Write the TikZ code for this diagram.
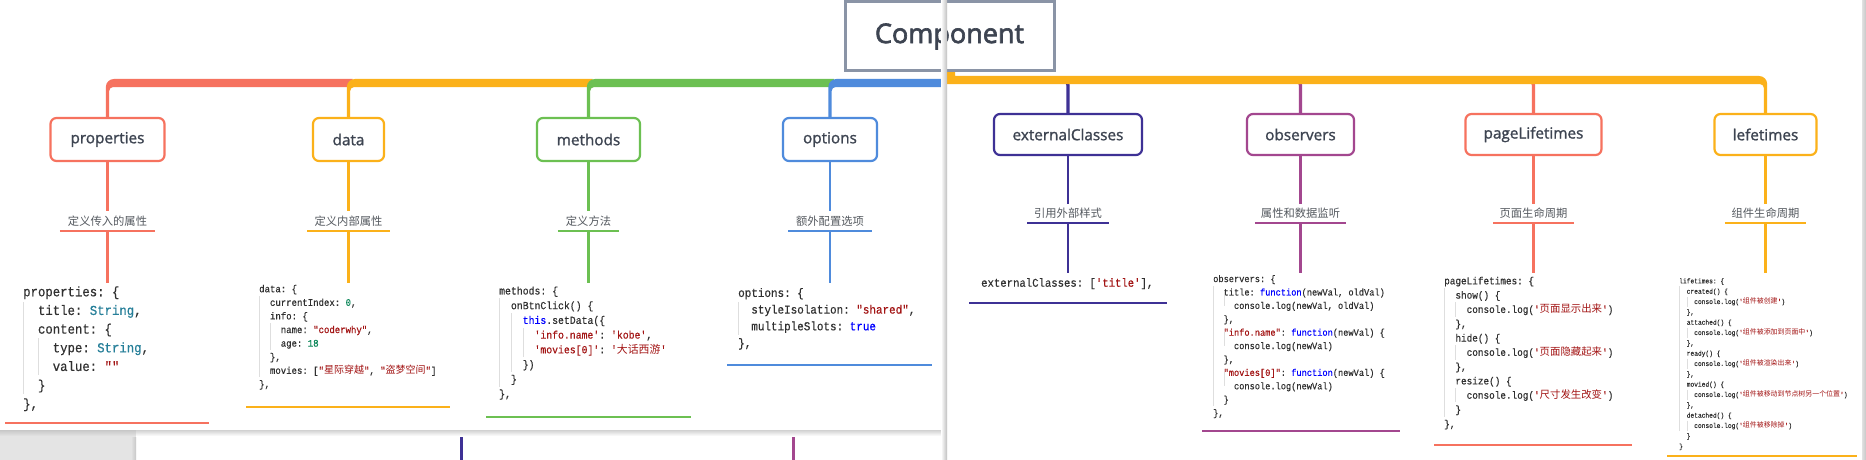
\documentclass[tikz,border=0pt]{standalone}
\usepackage{fontspec}
\setmainfont{Open Sans}
\setmonofont{Liberation Mono}[FakeStretch=0.9,FakeBold=0.4]
\newfontfamily\cjk{Noto Sans CJK SC}
\newfontfamily\labelfont{Open Sans}[FakeBold=1.3]
\newfontfamily\titlefont{Open Sans}[FakeBold=2.4]
\definecolor{cred}{HTML}{F6725F}
\definecolor{cyel}{HTML}{FBB11A}
\definecolor{cgrn}{HTML}{6CC052}
\definecolor{cblu}{HTML}{4F8BDC}
\definecolor{cpur}{HTML}{3E3195}
\definecolor{cmag}{HTML}{A3478F}
\definecolor{ctext}{HTML}{3D4451}
\definecolor{csub}{HTML}{555A60}
\definecolor{ctitleb}{HTML}{8A94A6}
\definecolor{ccode}{HTML}{303030}
\definecolor{cstr}{HTML}{A31515}
\definecolor{cnum}{HTML}{098658}
\definecolor{ctype}{HTML}{267F99}
\definecolor{ckw}{HTML}{0000FF}
\definecolor{bggrey}{HTML}{E4E4E4}
\newcommand\ii{\hspace*{1.08em}}
\newcommand\cs[1]{\textcolor{cstr}{#1}}
\newcommand\cn[1]{\textcolor{cnum}{#1}}
\newcommand\ct[1]{\textcolor{ctype}{#1}}
\newcommand\ck[1]{\textcolor{ckw}{#1}}
\newcommand\codefs[2]{\ttfamily\fontsize{#1}{#2}\selectfont}
\begin{document}
\begin{tikzpicture}[x=1pt,y=-1pt,
  box/.style={line width=2.2, rounded corners=6, fill=white, inner sep=0,
    font=\labelfont\fontsize{15.3}{18}\selectfont, text=ctext},
  lbox/.style={box, minimum height=43},
  rbox/.style={box, minimum height=41},
  sub/.style={inner sep=0, minimum height=20, font=\cjk\fontsize{11.3}{13}\selectfont, text=csub},
  code/.style={anchor=north west, inner sep=0, align=left, text=ccode},
  guide/.style={draw=black!13, line width=0.7},
  thin/.style={line width=2.5},
  uline/.style={line width=2},
  vlink/.style={line width=3.3, rounded corners=4}]
\useasboundingbox (0,0) rectangle (1866,460);
\newcommand\guide[3]{\draw[guide] (#1,#2) -- (#1,#3);}
% backgrounds
\fill[white] (0,0) rectangle (1866,460);
\fill[bggrey] (0,430) rectangle (136,460);
\shade[left color=bggrey, right color=black!22] (131,430) rectangle (136,460);
\draw[cpur, line width=3] (461,430) -- (461,460);
\draw[cmag, line width=3] (793,430) -- (793,460);
\shade[top color=black!22, bottom color=bggrey] (0,430) rectangle (136,436);
\shade[top color=black!18, bottom color=white] (136,430) rectangle (945,436);

% ---------- left panel main branch bands ----------
\fill[cred] (105.85,118) -- (105.85,87) arc[start angle=180,end angle=270,radius=8] -- (352.5,79) -- (352.5,87) -- (113.15,87) arc[start angle=270,end angle=180,radius=4] -- (109.15,118) -- cycle;
\fill[cyel] (346.85,118) -- (346.85,87) arc[start angle=180,end angle=270,radius=8] -- (592.5,79) -- (592.5,87) -- (354.15,87) arc[start angle=270,end angle=180,radius=4] -- (350.15,118) -- cycle;
\fill[cgrn] (586.85,118) -- (586.85,87) arc[start angle=180,end angle=270,radius=8] -- (834,79) -- (834,87) -- (594.15,87) arc[start angle=270,end angle=180,radius=4] -- (590.15,118) -- cycle;
\fill[cblu] (828.35,118) -- (828.35,87) arc[start angle=180,end angle=270,radius=8] -- (946,79) -- (946,87) -- (835.65,87) arc[start angle=270,end angle=180,radius=4] -- (831.65,118) -- cycle;

% ---------- left panel nodes ----------
\node[lbox, draw=cred, minimum width=114] (prop) at (107.5,139.5) {properties};
\node[lbox, draw=cyel, minimum width=71] (data) at (348.5,139.5) {data};
\node[lbox, draw=cgrn, minimum width=103] (meth) at (588.5,139.5) {methods};
\node[lbox, draw=cblu, minimum width=94] (opt) at (830,139.5) {options};

\node[sub, minimum width=95] (propsub) at (107.5,221) {定义传入的属性};
\node[sub, minimum width=82] (datasub) at (348.5,221) {定义内部属性};
\node[sub, minimum width=61] (methsub) at (588.5,221) {定义方法};
\node[sub, minimum width=83] (optsub) at (830,221) {额外配置选项};

\coordinate (propc) at (107.5,283);
\coordinate (datac) at (348.5,283);
\coordinate (methc) at (588.5,283);
\coordinate (optc) at (830,283);

\draw[cred, thin] (prop.south) -- (propsub.north) (propsub.south) -- (propc);
\draw[cyel, thin] (data.south) -- (datasub.north) (datasub.south) -- (datac);
\draw[cgrn, thin] (meth.south) -- (methsub.north) (methsub.south) -- (methc);
\draw[cblu, thin] (opt.south) -- (optsub.north) (optsub.south) -- (optc);
\draw[cred, uline] (propsub.south west) -- (propsub.south east);
\draw[cyel, uline] (datasub.south west) -- (datasub.south east);
\draw[cgrn, uline] (methsub.south west) -- (methsub.south east);
\draw[cblu, uline] (optsub.south west) -- (optsub.south east);

% code blocks left
\node[code, font=\codefs{13.7}{18.67}] (propcode) at (23,283) {%
\strut properties: \{\\
\strut\ii title: \ct{String},\\
\strut\ii content: \{\\
\strut\ii\ii type: \ct{String},\\
\strut\ii\ii value: \cs{""}\\
\strut\ii \}\\
\strut\},};
\guide{23.5}{302}{394}
\guide{38.3}{338}{375}
\draw[cred, uline] (5,423) -- (209,423);

\node[code, font=\codefs{10}{13.6}] (datacode) at (259,282.5) {%
\strut data: \{\\
\strut\ii currentIndex: \cn{0},\\
\strut\ii info: \{\\
\strut\ii\ii name: \cs{"coderwhy"},\\
\strut\ii\ii age: \cn{18}\\
\strut\ii \},\\
\strut\ii movies: [\cs{"{\cjk 星际穿越}"}, \cs{"{\cjk 盗梦空间}"}]\\
\strut\},};
\guide{259.5}{296}{377}
\guide{270.3}{323}{350}
\draw[cyel, uline] (246,407) -- (450,407);

\node[code, font=\codefs{10.9}{14.7}] (methcode) at (499,284) {%
\strut methods: \{\\
\strut\ii onBtnClick() \{\\
\strut\ii\ii \ck{this}.setData(\{\\
\strut\ii\ii\ii \cs{'info.name'}: \cs{'kobe'},\\
\strut\ii\ii\ii \cs{'movies[0]'}: \cs{'{\cjk 大话西游}'}\\
\strut\ii\ii \})\\
\strut\ii \}\\
\strut\},};
\guide{499.5}{298}{387}
\guide{511.3}{313}{372}
\guide{523.1}{328}{357}
\draw[cgrn, uline] (486,417) -- (691,417);

\node[code, font=\codefs{12.15}{16.7}] (optcode) at (738,285) {%
\strut options: \{\\
\strut\ii styleIsolation: \cs{"shared"},\\
\strut\ii multipleSlots: \ck{true}\\
\strut\},};
\guide{738.5}{302}{335}
\draw[cblu, uline] (727,365) -- (932,365);

% ---------- right panel ----------
\draw[cpur, vlink] (1060,81) -- (1068,81) -- (1068,114);
\draw[cmag, vlink] (1292.5,81) -- (1300.5,81) -- (1300.5,114);
\draw[cred, vlink] (1525.5,81) -- (1533.5,81) -- (1533.5,114);
\fill[cyel] (947,69) -- (955,69) -- (955,76) -- (1759.15,76) arc[start angle=270,end angle=360,radius=8] -- (1767.15,114) -- (1763.85,114) -- (1763.85,88) arc[start angle=0,end angle=-90,radius=4] -- (947,84) -- cycle;

\node[rbox, draw=cpur, minimum width=148] (ext) at (1068,134.5) {externalClasses};
\node[rbox, draw=cmag, minimum width=107] (obs) at (1300.5,134.5) {observers};
\node[rbox, draw=cred, minimum width=136] (page) at (1533.5,134.5) {pageLifetimes};
\node[rbox, draw=cyel, minimum width=102] (life) at (1765.5,134.5) {lefetimes};

\node[sub, minimum height=19, minimum width=81] (extsub) at (1068,213.5) {引用外部样式};
\node[sub, minimum height=19, minimum width=91] (obssub) at (1300.5,213.5) {属性和数据监听};
\node[sub, minimum height=19, minimum width=80] (pagesub) at (1533.5,213.5) {页面生命周期};
\node[sub, minimum height=19, minimum width=81] (lifesub) at (1765.5,213.5) {组件生命周期};

\coordinate (extc) at (1068,273);
\coordinate (obsc) at (1300.5,273);
\coordinate (pagec) at (1533.5,273);
\coordinate (lifec) at (1765.5,273);

\draw[cpur, thin] (ext.south) -- (extsub.north) (extsub.south) -- (extc);
\draw[cmag, thin] (obs.south) -- (obssub.north) (obssub.south) -- (obsc);
\draw[cred, thin] (page.south) -- (pagesub.north) (pagesub.south) -- (pagec);
\draw[cyel, thin] (life.south) -- (lifesub.north) (lifesub.south) -- (lifec);
\draw[cpur, uline] (extsub.south west) -- (extsub.south east);
\draw[cmag, uline] (obssub.south west) -- (obssub.south east);
\draw[cred, uline] (pagesub.south west) -- (pagesub.south east);
\draw[cyel, uline] (lifesub.south west) -- (lifesub.south east);

\node[code, font=\codefs{11.8}{14}] (extcode) at (981,276.7) {%
\strut externalClasses: [\cs{'title'}],};
\draw[cpur, uline] (969,303) -- (1167,303);

\node[code, font=\codefs{9.63}{13.4}] (obscode) at (1213,272.5) {%
\strut observers: \{\\
\strut\ii title: \ck{function}(newVal, oldVal)\\
\strut\ii\ii console.log(newVal, oldVal)\\
\strut\ii \},\\
\strut\ii \cs{"info.name"}: \ck{function}(newVal) \{\\
\strut\ii\ii console.log(newVal)\\
\strut\ii \},\\
\strut\ii \cs{"movies[0]"}: \ck{function}(newVal) \{\\
\strut\ii\ii console.log(newVal)\\
\strut\ii \}\\
\strut\},};
\guide{1213.5}{286}{406}
\guide{1223.9}{292}{306}
\guide{1223.9}{332}{346}
\guide{1223.9}{372}{386}
\draw[cmag, uline] (1202,431) -- (1400,431);

\node[code, font=\codefs{10.4}{14.3}] (pagecode) at (1444,274.1) {%
\strut pageLifetimes: \{\\
\strut\ii show() \{\\
\strut\ii\ii console.log(\cs{'{\cjk 页面显示出来}'})\\
\strut\ii \},\\
\strut\ii hide() \{\\
\strut\ii\ii console.log(\cs{'{\cjk 页面隐藏起来}'})\\
\strut\ii \},\\
\strut\ii resize() \{\\
\strut\ii\ii console.log(\cs{'{\cjk 尺寸发生改变}'})\\
\strut\ii \}\\
\strut\},};
\guide{1444.5}{288}{417}
\guide{1455.7}{302}{317}
\guide{1455.7}{345}{360}
\guide{1455.7}{388}{402}
\draw[cred, uline] (1434,445) -- (1632,445);

\node[code, font=\codefs{6.94}{10.33}] (lifecode) at (1679,275.9) {%
\strut lifetimes: \{\\
\strut\ii created() \{\\
\strut\ii\ii console.log(\cs{'{\cjk 组件被创建}'})\\
\strut\ii \},\\
\strut\ii attached() \{\\
\strut\ii\ii console.log(\cs{'{\cjk 组件被添加到页面中}'})\\
\strut\ii \},\\
\strut\ii ready() \{\\
\strut\ii\ii console.log(\cs{'{\cjk 组件被渲染出来}'})\\
\strut\ii \},\\
\strut\ii movied() \{\\
\strut\ii\ii console.log(\cs{'{\cjk 组件被移动到节点树另一个位置}'})\\
\strut\ii \},\\
\strut\ii detached() \{\\
\strut\ii\ii console.log(\cs{'{\cjk 组件被移除掉}'})\\
\strut\ii \}\\
\strut\}};
\guide{1679.5}{286}{431}
\foreach \k in {2,5,8,11,14} {\guide{1687}{281+10.33*\k-5}{281+10.33*\k+5}}
\draw[cyel, uline] (1667,456) -- (1857,456);

% ---------- root ----------
\node[draw=ctitleb, line width=3, fill=white, minimum width=209, minimum height=69, inner sep=0,
  font=\titlefont\fontsize{27}{30}\selectfont, text=ctext] (root) at (949.5,36.5) {Component};

% window edges
\shade[left color=white, right color=black!25] (941,0) rectangle (947,460);
\shade[left color=black!12, right color=black!22] (1862,0) rectangle (1866,460);
\end{tikzpicture}
\end{document}
